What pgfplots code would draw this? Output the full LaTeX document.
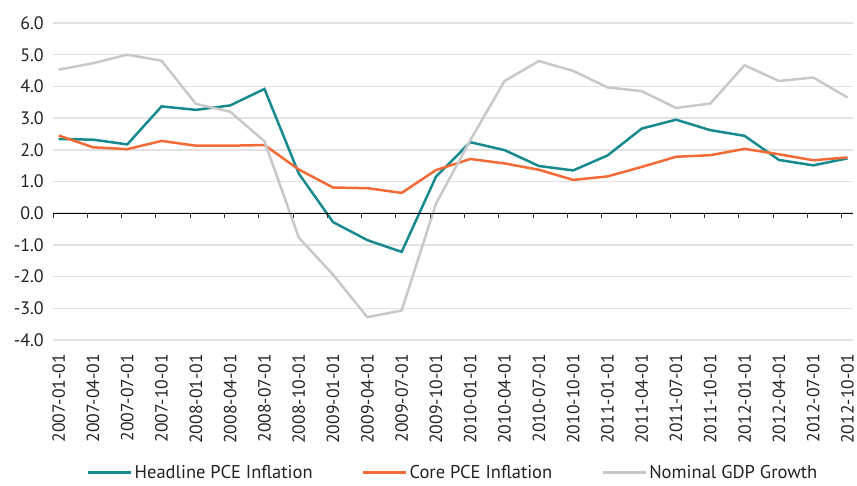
\documentclass[border=0pt]{standalone}
\usepackage{fontspec}
\setmainfont{PT Sans}
\usepackage{pgfplots}
\pgfplotsset{compat=1.18}
\definecolor{cteal}{HTML}{178A8F}
\definecolor{corange}{HTML}{F26A36}
\definecolor{cgray}{HTML}{C8C8C8}
\definecolor{cgrid}{HTML}{E2E2E2}
\definecolor{ctext}{HTML}{222222}
\begin{document}
\begin{tikzpicture}
\path[use as bounding box] (0pt,0pt) rectangle (857pt,-485pt);
\begin{axis}[
  at={(53pt,-340pt)}, anchor=south west,
  scale only axis, width=800pt, height=317pt,
  xmin=-0.166, xmax=23.16, ymin=-4, ymax=6,
  axis line style={draw=none}, tick style={draw=none},
  ytick={-4,-3,...,6},
  ymajorgrids, grid style={cgrid, line width=1.5pt},
  /pgf/number format/fixed, /pgf/number format/fixed zerofill, /pgf/number format/precision=1,
  /pgf/number format/assume math mode=true,
  yticklabel style={font=\fontsize{18}{20}\selectfont, text=ctext, inner sep=0pt, xshift=-9pt},
  xtick={0,...,23},
  xticklabels={2007-01-01,2007-04-01,2007-07-01,2007-10-01,2008-01-01,2008-04-01,2008-07-01,2008-10-01,2009-01-01,2009-04-01,2009-07-01,2009-10-01,2010-01-01,2010-04-01,2010-07-01,2010-10-01,2011-01-01,2011-04-01,2011-07-01,2011-10-01,2012-01-01,2012-04-01,2012-07-01,2012-10-01},
  xticklabel style={rotate=90, anchor=east, font=\fontsize{17.6}{20}\selectfont, text=ctext, inner sep=0pt},
  xticklabel shift=14pt,
  legend columns=3,
  legend style={at={(0.5,-0.418)}, anchor=center, draw=none, inner sep=1pt, font=\fontsize{18.5}{20}\selectfont, text=ctext,
    /tikz/every even column/.append style={column sep=47pt}},
  legend image code/.code={\draw[#1, line width=3pt] (0pt,0pt) -- (43pt,0pt);},
]
\addplot[cteal, line width=2.5pt] coordinates {
(0,2.34) (1,2.32) (2,2.17) (3,3.37) (4,3.26) (5,3.40) (6,3.92) (7,1.25)
(8,-0.28) (9,-0.85) (10,-1.22) (11,1.15) (12,2.24) (13,1.99) (14,1.49) (15,1.35)
(16,1.82) (17,2.67) (18,2.95) (19,2.62) (20,2.44) (21,1.68) (22,1.51) (23,1.73)};
\addlegendentry{Headline PCE Inflation}
\addplot[corange, line width=2.5pt] coordinates {
(0,2.45) (1,2.08) (2,2.02) (3,2.28) (4,2.13) (5,2.13) (6,2.15) (7,1.38)
(8,0.81) (9,0.79) (10,0.64) (11,1.36) (12,1.71) (13,1.57) (14,1.37) (15,1.05)
(16,1.16) (17,1.46) (18,1.78) (19,1.83) (20,2.03) (21,1.86) (22,1.67) (23,1.76)};
\addlegendentry{Core PCE Inflation}
\addplot[cgray, line width=2.5pt] coordinates {
(0,4.53) (1,4.73) (2,5.00) (3,4.81) (4,3.45) (5,3.20) (6,2.27) (7,-0.77)
(8,-1.94) (9,-3.28) (10,-3.07) (11,0.30) (12,2.30) (13,4.17) (14,4.80) (15,4.49)
(16,3.97) (17,3.85) (18,3.32) (19,3.46) (20,4.67) (21,4.17) (22,4.28) (23,3.65)};
\addlegendentry{Nominal GDP Growth}
\end{axis}
\begin{axis}[
  at={(53pt,-340pt)}, anchor=south west,
  scale only axis, width=800pt, height=317pt,
  xmin=-0.166, xmax=23.16, ymin=-4, ymax=6,
  axis x line=middle, axis y line=none,
  x axis line style={black, line width=1pt, -},
  xtick={-0.166,0.834,...,22.9}, xticklabels={},
  tick align=outside, major tick length=5pt,
  x tick style={black!80, line width=1pt},
]
\end{axis}
\end{tikzpicture}
\end{document}
